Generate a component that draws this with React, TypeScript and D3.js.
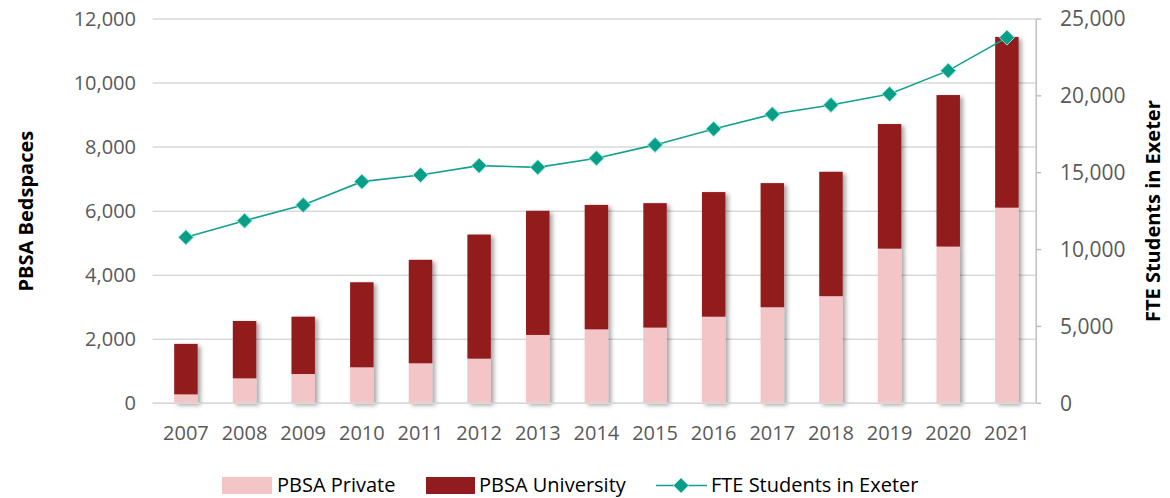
import React from "react";
import * as d3 from "d3";

const years = ["2007","2008","2009","2010","2011","2012","2013","2014","2015","2016","2017","2018","2019","2020","2021"];
const pbsaPrivate = [280, 780, 915, 1125, 1250, 1395, 2135, 2310, 2365, 2705, 3000, 3345, 4830, 4895, 6110];
const pbsaTotal = [1855, 2570, 2705, 3780, 4480, 5270, 6010, 6195, 6250, 6595, 6875, 7230, 8720, 9625, 11440];
const pbsaUniversity = pbsaTotal.map((t, i) => t - pbsaPrivate[i]);
const fteStudents = [10800, 11880, 12900, 14420, 14850, 15460, 15350, 15940, 16810, 17850, 18800, 19410, 20120, 21640, 23790];
const leftTicks = [0, 2000, 4000, 6000, 8000, 10000, 12000];
const rightTicks = [0, 5000, 10000, 15000, 20000, 25000];

const W = 1170, H = 498;
const plotL = 156.6, plotR = 1036.2, plotT = 19, plotB = 403.3;
const FONT = "'Open Sans', sans-serif";
const C_PRIV = "#f4c5c6";
const C_UNIV = "#921b1f";
const C_LINE = "#14a08f";
const C_DIAM = "#0a9e87";
const C_DIAM_STROKE = "#7de8da";
const C_TEXT = "#595959";
const C_GRID = "#d9d9d9";

export default function App() {
  const x = d3.scaleBand<string>().domain(years).range([plotL, plotR]).padding(0);
  const yL = d3.scaleLinear().domain([0, 12000]).range([plotB, plotT]);
  const yR = d3.scaleLinear().domain([0, 25000]).range([plotB, plotT]);
  const bw = x.bandwidth() * 0.4;
  const cx = (yr: string) => (x(yr) as number) + x.bandwidth() / 2;
  const fmt = d3.format(",");
  const line = d3.line<number>().x((_, i) => cx(years[i])).y((d) => yR(d));
  const diamond = (r: number) => `M0,${-r}L${r},0L0,${r}L${-r},0Z`;

  return (
    <svg width={W} height={H} style={{ position: "absolute", left: 0, top: 0, background: "#fff" }}>
      <defs>
        <filter id="shadow" x="-30%" y="-10%" width="180%" height="130%">
          <feDropShadow dx="3" dy="2" stdDeviation="2" floodColor="#000" floodOpacity="0.35" />
        </filter>
      </defs>
      <rect x={0} y={0} width={W} height={H} fill="#fff" />
      {leftTicks.map((t) => (
        <line key={"g" + t} x1={plotL - 4} x2={plotR} y1={yL(t)} y2={yL(t)} stroke={C_GRID} strokeWidth={1.5} />
      ))}
      {leftTicks.map((t) => (
        <text key={"l" + t} x={136} y={yL(t)} dy="0.35em" textAnchor="end" fontFamily={FONT} fontSize={20} fill={C_TEXT}>
          {fmt(t)}
        </text>
      ))}
      <line x1={plotR} x2={plotR} y1={plotT} y2={plotB} stroke="#bfbfbf" strokeWidth={1.5} />
      {rightTicks.map((t) => (
        <g key={"r" + t}>
          <line x1={plotR} x2={plotR + 5} y1={yR(t)} y2={yR(t)} stroke="#bfbfbf" strokeWidth={1.5} />
          <text x={1060} y={yR(t)} dy="0.35em" textAnchor="start" fontFamily={FONT} fontSize={21} fill={C_TEXT}>
            {fmt(t)}
          </text>
        </g>
      ))}
      {years.map((yr, i) => (
        <g key={"b" + yr} filter="url(#shadow)">
          <rect x={cx(yr) - bw / 2} width={bw} y={yL(pbsaPrivate[i])} height={yL(0) - yL(pbsaPrivate[i])} fill={C_PRIV} />
          <rect x={cx(yr) - bw / 2} width={bw} y={yL(pbsaTotal[i])} height={yL(pbsaPrivate[i]) - yL(pbsaTotal[i])} fill={C_UNIV} />
        </g>
      ))}
      <line x1={plotL - 4} x2={plotR} y1={plotB} y2={plotB} stroke={C_GRID} strokeWidth={1.5} />
      {years.map((yr) => (
        <text key={"x" + yr} x={cx(yr)} y={433} dy="0.35em" textAnchor="middle" fontFamily={FONT} fontSize={20} fill={C_TEXT}>
          {yr}
        </text>
      ))}
      <path d={line(fteStudents) || ""} fill="none" stroke={C_LINE} strokeWidth={1.6} />
      {fteStudents.map((v, i) => (
        <path key={"d" + i} d={diamond(7.5)} transform={`translate(${cx(years[i])},${yR(v)})`} fill={C_DIAM} stroke={C_DIAM_STROKE} strokeWidth={1} />
      ))}
      <text transform={`translate(26,${(plotT + plotB) / 2}) rotate(-90)`} textAnchor="middle" dy="0.35em" fontFamily={FONT} fontWeight="bold" fontSize={20} fill="#000">
        PBSA Bedspaces
      </text>
      <text transform={`translate(1153,${(plotT + plotB) / 2}) rotate(-90)`} textAnchor="middle" dy="0.35em" fontFamily={FONT} fontWeight="bold" fontSize={20} fill="#000">
        FTE Students in Exeter
      </text>
      <g fontFamily={FONT} fontSize={20} fill="#000">
        <rect x={222} y={477} width={50} height={17} fill={C_PRIV} />
        <text x={277} y={485} dy="0.35em">PBSA Private</text>
        <rect x={426} y={477} width={49} height={17} fill={C_UNIV} />
        <text x={479} y={485} dy="0.35em">PBSA University</text>
        <line x1={656} x2={707} y1={485.5} y2={485.5} stroke={C_LINE} strokeWidth={1.6} />
        <path d={diamond(7.5)} transform="translate(681,485.5)" fill={C_DIAM} stroke={C_DIAM_STROKE} strokeWidth={1} />
        <text x={711} y={485} dy="0.35em">FTE Students in Exeter</text>
      </g>
    </svg>
  );
}
